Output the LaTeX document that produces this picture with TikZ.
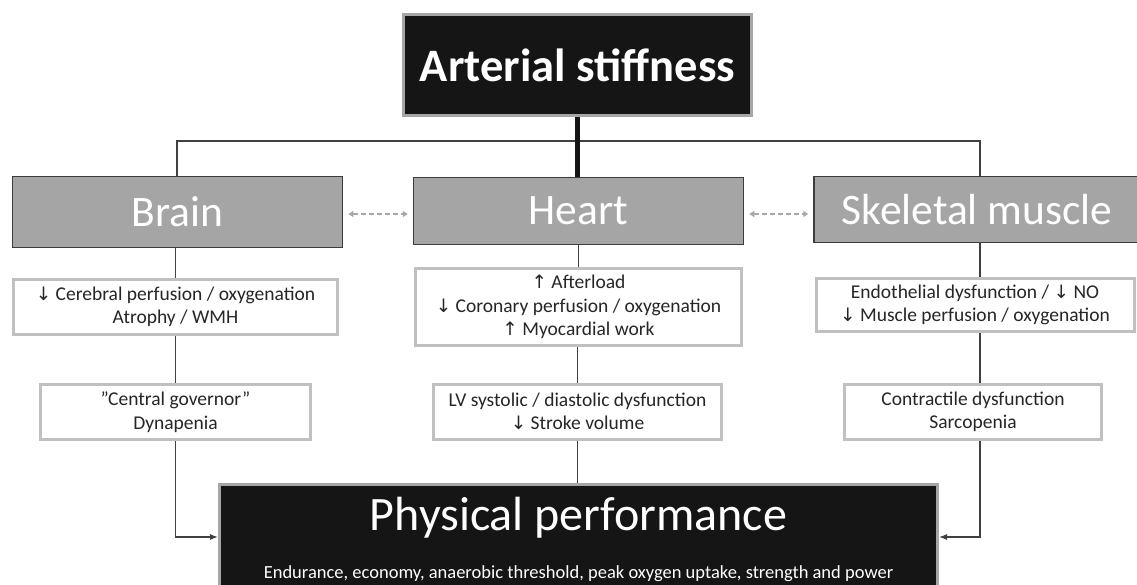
\documentclass[tikz,border=0pt]{standalone}
\usepackage{fontspec}
\setmainfont{Carlito}
\newfontfamily\arrfont{DejaVu Sans}
\usetikzlibrary{arrows.meta}
\newcommand{\dar}{{\arrfont\fontsize{18.5}{25}\selectfont ↓}}
\newcommand{\uar}{{\arrfont\fontsize{18.5}{25}\selectfont ↑}}
\definecolor{nearblack}{HTML}{151515}
\definecolor{frame}{HTML}{A6A6A6}
\definecolor{organfill}{HTML}{A5A5A5}
\definecolor{organline}{HTML}{3C3C3C}
\definecolor{effline}{HTML}{C0C0C0}
\definecolor{linkc}{HTML}{404040}
\definecolor{dashc}{HTML}{A8A8A8}
\tikzset{
  topbox/.style={draw=frame, line width=3pt, fill=nearblack, text=white, inner sep=0pt},
  organ/.style={draw=organline, line width=1.5pt, fill=organfill, text=white, inner sep=0pt,
    font=\fontsize{43.5}{48}\selectfont},
  effect/.style={draw=effline, line width=3pt, fill=white, text=black!85, inner sep=0pt,
    align=center, font=\fontsize{19.5}{23.5}\selectfont},
  link/.style={draw=linkc, line width=1.2pt},
  thicklink/.style={draw=nearblack, line width=5pt},
  flowarrow/.style={draw=linkc, line width=1.2pt, -{Latex[length=8pt,width=6pt]}},
  mutual/.style={draw=dashc, line width=2pt, dash pattern=on 5pt off 3pt,
    {Triangle[length=5pt,width=6pt]}-{Triangle[length=5pt,width=6pt]}, shorten <=5pt, shorten >=5pt}
}
\begin{document}
\begin{tikzpicture}[x=1pt,y=-1pt]
\useasboundingbox (0,0) rectangle (1137,585);
% top
\node[topbox, minimum width=348pt, minimum height=101pt,
  font=\bfseries\fontsize{46.5}{52}\selectfont] (art) at (577.5,65) {Arterial stiffness};
% organs
\node[organ, minimum width=330pt, minimum height=71pt] (brain) at (177.5,212) {Brain};
\node[organ, minimum width=330pt, minimum height=67pt] (heart) at (578.5,211) {Heart};
\node[organ, minimum width=326pt, minimum height=66pt] (skel) at (977,209.5) {Skeletal muscle};
% effects
\node[effect, minimum width=324pt, minimum height=55pt] (b1) at (175.5,307)
  {\dar{} Cerebral perfusion / oxygenation\\Atrophy / WMH};
\node[effect, minimum width=270pt, minimum height=55pt] (b2) at (175.5,412)
  {”Central governor”\\Dynapenia};
\node[effect, minimum width=326pt, minimum height=77pt] (h1) at (578.5,307)
  {\uar{} Afterload\\\dar{} Coronary perfusion / oxygenation\\\uar{} Myocardial work};
\node[effect, minimum width=288pt, minimum height=55pt] (h2) at (577.5,411.5)
  {LV systolic / diastolic dysfunction\\\dar{} Stroke volume};
\node[effect, minimum width=318pt, minimum height=53pt] (s1) at (975,305)
  {Endothelial dysfunction / \dar{} NO\\\dar{} Muscle perfusion / oxygenation};
\node[effect, minimum width=257pt, minimum height=55pt] (s2) at (973,412)
  {Contractile dysfunction\\Sarcopenia};
% bottom
\node[topbox, minimum width=718pt, minimum height=106pt] (pp) at (578.5,537) {};
\node[text=white, inner sep=0pt, anchor=base, font=\fontsize{48}{52}\selectfont] (pptitle)
  at (578.5,530) {Physical performance};
\node[text=white, inner sep=0pt, anchor=base, font=\fontsize{18.5}{22}\selectfont] (ppsub)
  at (578.5,578) {Endurance, economy, anaerobic threshold, peak oxygen uptake, strength and power};
% connectors
\coordinate (tl) at (177,141);
\coordinate (tr) at (980,141);
\draw[link] (brain.north -| tl) -- (tl) -- (tr) -- (tr |- skel.north);
\draw[thicklink] (art.south) -- (art.south |- heart.north);
\draw[mutual] ([yshift=-2pt]brain.east) -- ([yshift=-2pt]brain.east -| heart.west);
\draw[mutual] ([yshift=-3pt]heart.east) -- ([yshift=-3pt]heart.east -| skel.west);
\draw[link] (brain.south -| b1.north) -- (b1.north);
\draw[link] (b1.south) -- (b2.north);
\draw[flowarrow] (b2.south) |- (pp.west);
\draw[link] (heart.south -| h1.north) -- (h1.north);
\draw[link] (h1.south -| h2.north) -- (h2.north);
\draw[link] (h2.south) -- (h2.south |- pp.north);
\draw[link] (skel.south -| tr) -- (s1.north -| tr);
\draw[link] (s1.south -| tr) -- (s2.north -| tr);
\draw[flowarrow] (s2.south -| tr) |- (pp.east);
\end{tikzpicture}
\end{document}
